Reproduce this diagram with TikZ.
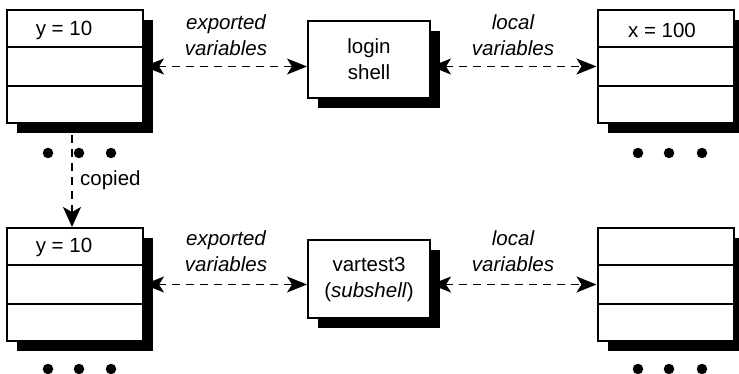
\documentclass[tikz,border=0pt]{standalone}
\usepackage{fontspec}
\setmainfont{Liberation Sans}
\usetikzlibrary{arrows.meta,shadows,calc}
\begin{document}
\begin{tikzpicture}[x=1pt,y=-1pt,
  every node/.style={font=\fontsize{20.5}{26}\selectfont, inner sep=0pt},
  shbox/.style={draw, line width=2pt, fill=white,
    general shadow={shadow xshift=10pt, shadow yshift=-10pt, fill=black}},
  stack/.style={shbox, minimum width=136pt, minimum height=113pt},
  proc/.style={shbox, minimum width=122pt, minimum height=77pt, align=center},
  lbl/.style={align=center, font=\fontsize{20.5}{26}\selectfont\itshape},
  link/.style={line width=1.5pt, dash pattern=on 8pt off 6pt,
    {Stealth[length=20pt,width=16pt,inset=5pt]}-{Stealth[length=20pt,width=16pt,inset=5pt]}},
  dotc/.style={fill=black, circle, minimum size=10.5pt}
]
\useasboundingbox (0,0) rectangle (739,374);
% stacks
\node[stack] (tl) at (75,66.5) {};
\node[stack] (tr) at (665.5,66.5) {};
\node[stack] (bl) at (75,284.5) {};
\node[stack] (br) at (665.5,284.5) {};
\foreach \s in {tl,tr,bl,br}{
  \draw[line width=2pt] ($(\s.north west)!1/3!(\s.south west)$) -- ($(\s.north east)!1/3!(\s.south east)$);
  \draw[line width=2pt] ($(\s.north west)!2/3!(\s.south west)$) -- ($(\s.north east)!2/3!(\s.south east)$);
}
\node (ytop) at (64,30) {y = 10};
\node (xtop) at (662,30) {x = 100};
\node (ybot) at (64,247) {y = 10};
% processes
\node[proc] (login) at (369,59.5) {login\\shell};
\node[proc] (sub) at (369,279) {vartest3\\(\textit{subshell})};
% labels
\node[lbl] (e1) at (226,35) {exported\\variables};
\node[lbl] (l1) at (513,35) {local\\variables};
\node[lbl] (e2) at (226,251) {exported\\variables};
\node[lbl] (l2) at (513,251) {local\\variables};
% arrows
\draw[link] (tl.east) -- (tl.east -| login.west);
\draw[link] (tr.west -| login.east) -- (tr.west);
\draw[link] (bl.east) -- (bl.east -| sub.west);
\draw[link] (br.west -| sub.east) -- (br.west);
% dots
\foreach \n/\x/\y in {a/48/153,b/79/153,c/111/153,d/638/153,e/669/153,f/702/153,g/48/369,h/79/369,i/111/369,j/638/369,k/669/369,m/702/369}{
  \node[dotc] (dot\n) at (\x,\y) {};
}
% copied
\coordinate (cstart) at (72,135);
\draw[line width=1.5pt, dash pattern=on 8pt off 6pt, -{Stealth[length=20pt,width=18pt,inset=5pt]}] (cstart) -- (cstart |- bl.north);
\node[anchor=west] (cp) at (80,180) {copied};
\end{tikzpicture}
\end{document}
